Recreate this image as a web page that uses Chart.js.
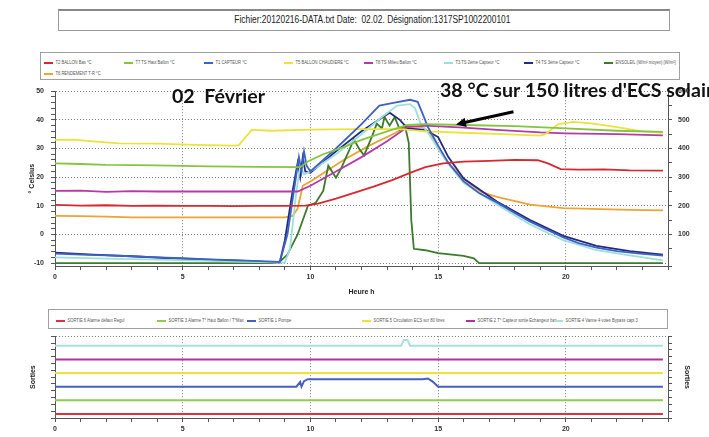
<!DOCTYPE html>
<html>
<head>
<meta charset="utf-8">
<script src="https://cdn.jsdelivr.net/npm/chart.js@4.4.1/dist/chart.umd.min.js"></script>
<style>
  html, body { margin: 0; padding: 0; background: #fff; width: 709px; height: 437px; overflow: hidden; }
  #page { position: relative; width: 709px; height: 437px; font-family: "Liberation Sans", Arial, sans-serif; }
  canvas { position: absolute; left: 0; }
  #titleBox { position: absolute; left: 58px; top: 9px; width: 612px; height: 22px; box-sizing: border-box;
    border: 1px solid #9a9a9a; border-top: 2px solid #888; color: #222; text-align: center; padding-left: 16px;
    font-family: "Liberation Sans", Arial, sans-serif; font-size: 10px; line-height: 18px; }
  #titleBox span { display: inline-block; transform: scaleX(0.84); transform-origin: center; white-space: nowrap; }
  .lbox { position: absolute; box-sizing: border-box; border: 1px solid #a0a0a0; background: #fff; }
  .item { position: absolute; white-space: nowrap; color: #555; font-size: 5px; line-height: 5px;
    font-family: "Liberation Sans", Arial, sans-serif; transform: scaleX(0.82); transform-origin: left center; }
  .item i { display: inline-block; width: 11px; height: 2px; vertical-align: middle; margin-right: 3px; }
  .note { position: absolute; z-index: 5; white-space: nowrap; color: #111; font-family: Lato, sans-serif;
    font-weight: bold; font-size: 19.6px; line-height: 20px; }
</style>
</head>
<body>
<div id="page">
  <div id="titleBox"><span>Fichier:20120216-DATA.txt Date:&nbsp; 02.02. Désignation:1317SP1002200101</span></div>
  <div class="lbox" id="topLegend" style="left:40px; top:52px; width:640px; height:28px;"></div>
  <canvas id="topChart" width="709" height="218" style="top:80px;"></canvas>
  <div class="note" style="left:172px; top:86px;">02&nbsp; Février</div>
  <div class="note" style="left:440px; top:80px;">38 °C sur 150 litres d'ECS solaire</div>
  <div class="lbox" id="botLegend" style="left:48px; top:309px; width:620px; height:20px;"></div>
  <canvas id="botChart" width="709" height="108" style="top:329px;"></canvas>
</div>
<script>
// ---- upper chart : temperatures (°C) and sunshine (W/m²), x = hour of day ----
const T2_BALLON_BAS = [[0,10.3],[1,10.1],[2,10.2],[3,10],[4,10.1],[5,10],[6,10],[7,9.9],[8,10],[9,10],[9.8,10.1],[10.3,10.8],[11,12.5],[11.8,14.8],[12.5,16.8],[13.2,19],[13.9,21.5],[14.5,23.5],[15.2,24.8],[16,25.4],[17,25.7],[18,26],[18.9,25.9],[19.3,24.8],[19.8,22.8],[20.5,22.6],[21.5,22.7],[22.5,22.4],[23.8,22.3]];
const T7_HAUT_BALLON = [[0,24.8],[1,24.6],[2,24.3],[4,24.1],[6,23.8],[8,23.6],[9.6,23.5],[9.9,25.5],[10.5,28],[11.3,30.5],[12,33],[13,36],[13.8,38.2],[14.5,38.5],[16,38.2],[18,37.8],[20,37],[22,36.2],[23.8,35.8]];
const T1_CAPTEUR = [[0,-6.7],[1,-7],[2,-7.3],[3,-7.6],[4,-8],[5,-8.3],[6,-8.7],[7,-9],[8,-9.3],[8.8,-9.6],[9.1,0],[9.4,18],[9.55,27],[9.65,22],[9.75,29],[9.85,24],[10,22],[11,30],[12,38.5],[12.7,45],[13.3,46],[13.9,47],[14.2,46.3],[14.4,42],[14.6,37.5],[15,31],[15.4,25],[16,18.5],[16.6,14.5],[17.3,11.2],[18,7.5],[18.6,4.5],[19.3,1.5],[19.9,-1],[20.5,-3],[21.2,-4.6],[22,-5.8],[22.8,-6.6],[23.8,-7.4]];
const T5_BALLON_CHAUDIERE = [[0,33],[0.7,33.1],[1.5,32.5],[2.5,31.8],[4,31.7],[5.5,31.3],[7,31],[7.2,31.2],[7.7,36.5],[8.5,36.2],[10,36.6],[12,36.8],[13.5,36.8],[14.5,36],[16,35.5],[17.5,35],[19,34.5],[19.2,35],[19.7,38.5],[20.3,39.3],[21,38.8],[22,37.5],[23,36],[23.8,35.5]];
const T8_MILIEU_BALLON = [[0,15.2],[1,15.3],[2,14.9],[3,15.1],[4,15],[6,15],[8,15],[9.5,15],[10,17],[11,22],[12,27],[13,32.5],[13.8,37.5],[14.5,38],[16,37.3],[17.3,36.5],[19,35.6],[20,35.3],[22,35],[23.8,34.6]];
const T3_CAPTEUR_2 = [[0,-8],[2,-8.4],[4,-8.8],[6,-9.2],[8,-9.6],[9,-9.8],[9.2,-5],[9.45,15],[9.6,24],[9.75,21],[10,22],[11,28],[12,35],[12.8,41],[13.4,45],[13.9,45.5],[14.1,44],[14.3,39],[14.6,35.5],[15,30],[15.4,24.5],[16,18],[17.3,10.5],[18.6,3.5],[19.9,-2],[21.2,-5.5],[22.5,-7.3],[23.8,-9]];
const T4_CAPTEUR_3 = [[0,-6.3],[1.5,-7],[3,-7.6],[4.5,-8.3],[6,-8.8],[7.5,-9.2],[8.8,-9.8],[9,-2],[9.3,15],[9.5,25],[9.6,20],[9.7,27],[9.8,22],[10,21.5],[11,29],[12,36],[13.1,42.5],[13.5,40],[13.8,37],[14.5,36.5],[15,34],[15.4,27],[16,19.5],[17.3,11.5],[18.6,5],[19.9,-0.5],[21.2,-4],[22.5,-5.8],[23.8,-7]];
const ENSOLEIL = [[0,0],[8.5,0],[8.8,5],[9.1,30],[9.5,100],[9.9,200],[10.2,210],[10.5,252],[10.7,340],[11,298],[11.2,330],[11.5,390],[11.7,432],[11.9,400],[12.1,376],[12.4,440],[12.6,487],[12.8,470],[12.9,510],[13.1,480],[13.3,509],[13.5,466],[13.7,480],[13.85,420],[13.95,150],[14.05,50],[14.5,45],[15,35],[16,25],[16.4,17],[16.6,0],[23.8,0]];
const T6_RENDEMENT = [[0,6.5],[1,6.4],[2,6.2],[3,6],[5,6],[7,6],[9,6],[9.3,6.5],[9.5,9],[9.7,17],[10,18.5],[11.3,26],[12.3,31],[13.3,35.3],[13.8,37.8],[14.4,37.5],[14.7,35.3],[15,30],[15.4,25],[16,19.3],[16.7,14.8],[17.3,13.1],[18.6,10.4],[19.9,9.2],[21,8.9],[22.5,8.6],[23.8,8.4]];

const TOP_SERIES = [T2_BALLON_BAS, T7_HAUT_BALLON, T1_CAPTEUR, T5_BALLON_CHAUDIERE, T8_MILIEU_BALLON, T3_CAPTEUR_2, T4_CAPTEUR_3, ENSOLEIL, T6_RENDEMENT];
const TOP_LABELS = ['T2 BALLON  Bas °C', 'T7 TS  Haut Ballon °C', 'T1 CAPTEUR °C', 'T5 BALLON CHAUDIERE °C', 'T8 TS  Milieu Ballon °C', 'T3 TS  2ème Capteur °C', 'T4 TS  3ème Capteur °C', 'ENSOLEIL (W/m² moyen) [W/m²]', 'T6 RENDEMENT  T-R °C'];
const TOP_COLORS = ['#d7282f', '#86c440', '#3d63c2', '#ece23c', '#b43aa6', '#9edfd9', '#232a86', '#3c7a2c', '#f0a232'];
const TOP_AXIS = ['y', 'y', 'y', 'y', 'y', 'y', 'y', 'y2', 'y'];
const CELSIUS_TICKS = [];
for (let v = -10; v <= 50; v += 2) CELSIUS_TICKS.push(v);

// ---- lower chart : outputs (on/off levels) ----
const SORTIE_6 = [[0,0],[23.8,0]];
const SORTIE_3 = [[0,1],[23.8,1]];
const SORTIE_1 = [[0,2],[9.45,2],[9.6,2.35],[9.65,2],[9.75,2.4],[9.9,2.55],[14.4,2.55],[14.6,2.6],[14.8,2.35],[15,2],[23.8,2]];
const SORTIE_5 = [[0,3],[23.8,3]];
const SORTIE_2 = [[0,4],[23.8,4]];
const SORTIE_4 = [[0,5],[13.55,5],[13.65,5.42],[13.8,5.42],[13.9,5],[23.8,5]];

const BOT_SERIES = [SORTIE_6, SORTIE_3, SORTIE_1, SORTIE_5, SORTIE_2, SORTIE_4];
const BOT_LABELS = ['SORTIE 6  Alarme défaut  Regul', 'SORTIE 3  Alarme T° Haut Ballon / T°Max', 'SORTIE 1  Pompe', 'SORTIE 5  Circulation ECS sur 80 litres', 'SORTIE 2  T° Capteur sortie Echangeur bas', 'SORTIE 4  Vanne 4 voies Bypass capt 3'];
const BOT_COLORS = ['#e0303f', '#8fcb52', '#4460c0', '#ece23c', '#b0329f', '#a6e2da'];

// annotation arrow (hour, °C)
const ARROW_FROM = [17.95, 42.8];
const ARROW_TO = [15.7, 38.4];

// ---- html legends ----
function buildLegend(id, labels, colors, xs, ys) {
  const box = document.getElementById(id);
  labels.forEach((lab, i) => {
    const d = document.createElement('div');
    d.className = 'item';
    d.style.left = xs[i] + 'px';
    d.style.top = ys[i] + 'px';
    d.innerHTML = '<i style="background:' + colors[i] + '"></i>' + lab;
    box.appendChild(d);
  });
}
buildLegend('topLegend', TOP_LABELS, TOP_COLORS,
  [3, 83, 163, 243, 323, 403, 483, 563, 3], [7, 7, 7, 7, 7, 7, 7, 7, 18]);
buildLegend('botLegend', BOT_LABELS, BOT_COLORS,
  [7, 108, 198, 313, 417, 505], [8, 8, 8, 8, 8, 8]);

// ---- chart helpers ----
const pts = a => a.map(p => ({ x: p[0], y: p[1] }));
const tickFont = { family: '"Liberation Sans", Arial, sans-serif', size: 7, weight: 'bold' };
const titleFont = { family: '"Liberation Sans", Arial, sans-serif', size: 7, weight: 'bold' };
const DOT = 'rgba(95,95,95,0.8)';
const NONE = 'rgba(0,0,0,0)';
const AXIS = '#555';

function xAxis(height, withTitle) {
  return {
    type: 'linear', min: 0, max: 24,
    afterFit: s => { s.height = height; },
    ticks: { stepSize: 1, autoSkip: false, maxRotation: 0, padding: 3, color: '#333', font: tickFont,
      callback: v => (v % 5 === 0 ? String(v) : '') },
    grid: { color: c => (c.tick && c.tick.value % 5 === 0 && c.tick.value > 0 && c.tick.value < 24) ? DOT : NONE,
      tickColor: AXIS, tickLength: 4 },
    border: { color: AXIS, dash: [1, 2] },
    title: { display: withTitle, text: 'Heure h', color: '#222', font: titleFont, padding: { top: 0, bottom: 2 } }
  };
}

const arrowPlugin = {
  id: 'arrow',
  afterDatasetsDraw(chart) {
    const { ctx, scales: { x, y } } = chart;
    const x1 = x.getPixelForValue(ARROW_FROM[0]), y1 = y.getPixelForValue(ARROW_FROM[1]);
    const x2 = x.getPixelForValue(ARROW_TO[0]), y2 = y.getPixelForValue(ARROW_TO[1]);
    const ang = Math.atan2(y2 - y1, x2 - x1);
    const head = 11;
    ctx.save();
    ctx.strokeStyle = '#000';
    ctx.fillStyle = '#000';
    ctx.lineWidth = 3;
    ctx.beginPath();
    ctx.moveTo(x1, y1);
    ctx.lineTo(x2 - Math.cos(ang) * head * 0.8, y2 - Math.sin(ang) * head * 0.8);
    ctx.stroke();
    ctx.beginPath();
    ctx.moveTo(x2, y2);
    ctx.lineTo(x2 - head * Math.cos(ang - 0.45), y2 - head * Math.sin(ang - 0.45));
    ctx.lineTo(x2 - head * Math.cos(ang + 0.45), y2 - head * Math.sin(ang + 0.45));
    ctx.closePath();
    ctx.fill();
    ctx.restore();
  }
};

// ---- upper chart ----
new Chart(document.getElementById('topChart'), {
  type: 'line',
  data: {
    datasets: TOP_SERIES.map((s, i) => ({
      label: TOP_LABELS[i], data: pts(s), yAxisID: TOP_AXIS[i],
      borderColor: TOP_COLORS[i], borderWidth: 1.8, pointRadius: 0, tension: 0, fill: false
    }))
  },
  options: {
    responsive: false, animation: false,
    layout: { padding: { top: 6, left: 0, right: 0, bottom: 0 } },
    plugins: { legend: { display: false }, tooltip: { enabled: false } },
    scales: {
      x: xAxis(32, true),
      y: {
        position: 'left', min: -11, max: 50,
        afterFit: s => { s.width = 55; },
        afterBuildTicks: s => { s.ticks = CELSIUS_TICKS.map(v => ({ value: v })); },
        ticks: { autoSkip: false, padding: 7, color: '#333', font: tickFont,
          callback: v => (v % 10 === 0 ? String(v) : '') },
        grid: { color: c => (c.tick && c.tick.value % 10 === 0) ? DOT : NONE, tickColor: AXIS, tickLength: 4 },
        border: { color: AXIS, dash: [1, 2] },
        title: { display: true, text: '° Celsius', color: '#222', font: titleFont, padding: { top: 28, bottom: 0 } }
      },
      y2: {
        position: 'right', min: -10, max: 600,
        afterFit: s => { s.width = 41; },
        ticks: { stepSize: 50, autoSkip: false, padding: 6, color: '#333', font: tickFont,
          callback: v => (v % 100 === 0 && v >= 0 ? String(v) : '') },
        grid: { drawOnChartArea: false, tickColor: AXIS, tickLength: 4 },
        border: { color: AXIS }
      }
    }
  },
  plugins: [arrowPlugin]
});

// ---- lower chart ----
new Chart(document.getElementById('botChart'), {
  type: 'line',
  data: {
    datasets: BOT_SERIES.map((s, i) => ({
      label: BOT_LABELS[i], data: pts(s),
      borderColor: BOT_COLORS[i], borderWidth: 2, pointRadius: 0, tension: 0, fill: false
    }))
  },
  options: {
    responsive: false, animation: false,
    layout: { padding: { top: 3, left: 0, right: 0, bottom: 0 } },
    plugins: { legend: { display: false }, tooltip: { enabled: false } },
    scales: {
      x: xAxis(19, false),
      y: {
        position: 'left', min: -0.3, max: 5.7,
        afterFit: s => { s.width = 55; },
        ticks: { stepSize: 0.5, autoSkip: false, color: NONE, font: tickFont, callback: () => '' },
        grid: { color: c => (c.tick && (c.tick.value === 2 || c.tick.value === 5.7)) ? DOT : NONE, tickColor: AXIS, tickLength: 4 },
        border: { color: AXIS, dash: [1, 2] },
        title: { display: true, text: 'Sorties', color: '#222', font: titleFont, padding: { top: 29, bottom: 0 } }
      },
      y2: {
        position: 'right', min: -0.3, max: 5.7,
        afterFit: s => { s.width = 41; },
        ticks: { stepSize: 0.5, autoSkip: false, color: NONE, font: tickFont, callback: () => '' },
        grid: { drawOnChartArea: false, tickColor: AXIS, tickLength: 4 },
        border: { color: AXIS },
        title: { display: true, text: 'Sorties', color: '#222', font: titleFont, padding: { top: 18, bottom: 0 } }
      }
    }
  }
});
</script>
</body>
</html>
